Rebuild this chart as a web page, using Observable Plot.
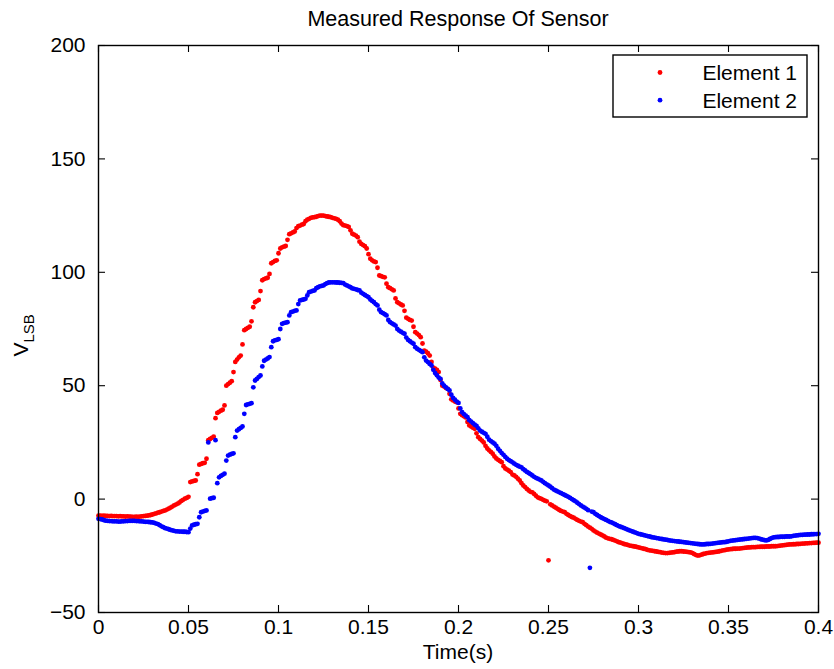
<!DOCTYPE html>
<html>
<head>
<meta charset="utf-8">
<script src="https://cdn.jsdelivr.net/npm/d3@7"></script>
<script src="https://cdn.jsdelivr.net/npm/@observablehq/plot@0.6"></script>
<style>
  html, body { margin: 0; padding: 0; background: #fff; }
  #chart { width: 834px; height: 669px; }
</style>
</head>
<body>
<div id="chart"></div>
<script>
// ---- data ----
const chartTitle = "Measured Response Of Sensor";
const xLabel = "Time(s)";
const yLabelMain = "V";
const yLabelSub = "LSB";
const seriesNames = ["Element 1", "Element 2"];
const seriesColors = ["#ff0000", "#0000ff"];
const xTicks = [0, 0.05, 0.1, 0.15, 0.2, 0.25, 0.3, 0.35, 0.4];
const xTickLabels = ["0", "0.05", "0.1", "0.15", "0.2", "0.25", "0.3", "0.35", "0.4"];
const yTicks = [-50, 0, 50, 100, 150, 200];
const yTickLabels = ["\u221250", "0", "50", "100", "150", "200"];
const sampleMs = d3.range(0, 401); // 1 ms sample clock, 0..400 ms

const element1 = [
  -7.3,-7.3,-7.4,-7.3,-7.4, -7.4,-7.5,-7.4,-7.5,-7.5, -7.5,-7.6,-7.5,-7.6,-7.6, -7.7,-7.6,-7.7,-7.7,-7.8,
  -7.8,-7.7,-7.8,-7.7,-7.6, -7.5,-7.4,-7.3,-7.2,-7.0, -6.8,-6.5,-6.3,-6.0,-5.8, -5.5,-5.2,-5.0,-4.6,-4.2,
  -3.8,-3.3,-2.8,-2.4,-2.0, -1.5,-0.8,-0.3,0.2,0.5, 1.0,7.5,7.8,8.0,8.2, 11.0,15.2,15.5,15.8,16.0,
  17.8,26.0,26.5,27.0,27.5, 35.7,38.0,38.5,39.0,39.4, 41.3,50.0,50.7,51.3,52.0, 56.0,60.5,61.5,62.5,63.3,
  68.2,74.5,75.0,75.5,76.0, 78.4,84.6,86.8,87.3,87.8, 91.7,96.5,97.0,97.3,97.6, 99.3,104.0,104.5,105.0,105.3,
  108.4,110.5,111.0,111.3,111.6, 114.3,116.8,117.2,117.6,118.0, 119.5,120.3,120.6,121.0,121.3, 122.5,123.2,123.6,124.0,124.2,
  124.3,124.5,124.8,125.0,125.0, 125.0,124.8,124.6,124.5,124.3, 124.0,123.8,123.6,123.2,122.5, 121.5,120.8,120.6,120.4,120.0,
  118.5,117.0,116.6,116.2,115.5, 113.5,112.5,112.0,111.5,110.5, 108.0,106.0,105.3,104.8,104.5, 102.0,98.6,98.3,98.0,97.8,
  95.0,93.4,93.0,92.5,92.0, 88.5,86.8,86.3,85.8,85.4, 83.0,80.0,79.5,79.0,78.7, 76.0,73.6,73.0,72.3,71.4,
  68.6,65.5,65.0,64.3,63.3, 60.5,58.0,57.5,57.0,56.0, 52.5,50.0,49.6,49.0,48.6, 46.4,44.0,43.5,43.0,42.7,
  40.0,37.6,37.0,36.5,36.0, 34.0,32.5,32.0,31.5,31.0, 29.0,27.3,26.5,25.8,25.0, 23.5,22.3,21.5,20.8,20.0,
  18.8,17.9,17.3,16.8,16.3, 14.5,13.5,13.0,12.5,11.9, 10.8,10.4,9.8,9.0,8.2, 7.0,6.0,5.3,4.5,3.8,
  3.2,3.0,2.3,1.5,0.8, 0.4,0.1,-0.3,-0.7,-1.0, -27.0,-2.3,-2.8,-3.3,-3.8, -4.3,-4.8,-5.2,-5.5,-5.8,
  -6.5,-7.0,-7.5,-7.9,-8.2, -8.7,-9.2,-9.6,-9.9,-10.2, -10.9,-11.5,-12.1,-12.6,-13.1, -13.8,-14.3,-14.8,-15.2,-15.6,
  -16.0,-16.5,-17.0,-17.3,-17.5, -17.7,-18.0,-18.3,-18.6,-19.0, -19.2,-19.5,-19.8,-20.0,-20.2, -20.5,-20.6,-20.8,-20.9,-21.1,
  -21.3,-21.5,-21.7,-21.9,-22.1, -22.4,-22.6,-22.7,-22.8,-23.0, -23.1,-23.3,-23.4,-23.6,-23.7, -23.8,-23.8,-23.7,-23.6,-23.5,
  -23.4,-23.2,-23.1,-23.0,-23.0, -23.1,-23.2,-23.3,-23.4,-23.5, -23.8,-24.3,-24.7,-24.9,-24.8, -24.5,-24.2,-24.0,-23.8,-23.7,
  -23.6,-23.5,-23.4,-23.3,-23.2, -23.0,-22.8,-22.6,-22.5,-22.3, -22.2,-22.1,-22.0,-21.9,-21.9, -21.8,-21.8,-21.7,-21.6,-21.5,
  -21.4,-21.3,-21.3,-21.2,-21.2, -21.2,-21.1,-21.1,-21.0,-21.0, -21.0,-20.9,-20.9,-20.9,-20.8, -20.8,-20.8,-20.7,-20.6,-20.5,
  -20.4,-20.3,-20.2,-20.1,-20.0, -20.0,-19.9,-19.9,-19.8,-19.8, -19.7,-19.6,-19.6,-19.5,-19.5, -19.4,-19.4,-19.3,-19.3,-19.2,
  -19.2
];

const element2 = [
  -8.7,-8.8,-9.0,-9.3,-9.5, -9.6,-9.7,-9.7,-9.8,-9.8, -9.8,-9.9,-9.9,-9.8,-9.8, -9.7,-9.7,-9.6,-9.6,-9.6,
  -9.6,-9.7,-9.7,-9.8,-9.8, -9.9,-10.0,-10.0,-10.1,-10.2, -10.3,-10.5,-10.8,-11.0,-11.5, -12.0,-12.4,-12.8,-13.0,-13.3,
  -13.6,-13.8,-14.0,-14.2,-14.2, -14.3,-14.3,-14.4,-14.4,-14.5,
  -14.6,
  -13.0,-11.6,-11.3,-11.1,-10.9, -8.0,-5.8,-5.5,-5.2,-5.0, 25.0,0.2,0.4,0.6,26.0, 7.0,9.6,10.2,10.7,11.2,
  17.0,19.2,19.6,19.9,20.2, 27.3,30.2,30.8,31.4,32.0, 37.6,41.5,41.8,42.0,42.3, 49.3,52.3,53.0,53.8,54.5,
  58.5,61.0,61.5,62.0,62.6, 67.0,69.6,70.0,70.2,70.5, 75.0,77.3,77.6,77.8,78.0, 81.0,82.4,82.7,83.0,83.2,
  86.0,87.6,87.8,88.0,88.3, 89.8,91.2,91.5,91.8,92.0, 93.0,93.4,93.8,94.0,94.2, 94.8,95.2,95.5,95.6,95.6,
  95.6,95.5,95.5,95.4,95.3, 95.2,94.6,94.2,93.8,93.4, 92.9,92.7,92.5,92.2,92.0, 91.0,90.5,90.0,89.5,89.0,
  88.0,87.4,86.8,86.0,85.4, 83.5,82.4,82.0,81.5,81.0, 79.0,78.0,77.5,77.0,76.5, 75.0,74.3,73.8,73.3,72.9,
  71.2,70.2,69.6,69.0,68.5, 67.0,66.3,65.8,65.3,64.8, 62.5,61.1,60.4,59.6,58.9, 57.0,55.6,54.6,53.6,53.0,
  51.0,50.0,49.3,48.6,47.9, 46.0,44.6,43.8,43.0,42.4, 40.0,38.3,37.5,36.8,36.1, 34.8,34.2,33.5,32.8,32.3,
  31.2,30.2,29.7,29.2,28.8, 27.5,26.2,25.6,25.0,24.4, 23.5,22.2,21.3,20.3,19.5, 18.6,17.8,17.2,16.7,16.2,
  15.6,15.1,14.7,14.3,14.0, 13.2,12.6,12.0,11.5,11.0, 10.4,9.8,9.4,9.0,8.6, 8.2,7.6,7.0,6.5,6.0,
  5.5,4.8,4.2,3.8,3.4, 3.0,2.6,2.2,1.8,1.4, 1.0,0.5,0.0,-0.5,-1.0, -1.6,-2.2,-2.8,-3.3,-3.8,
  -4.3,-4.9,-30.3,-5.5,-5.8, -6.5,-7.0,-7.5,-8.0,-8.4, -8.8,-9.2,-9.6,-10.0,-10.3, -10.7,-11.1,-11.5,-11.9,-12.2,
  -12.5,-12.8,-13.1,-13.5,-13.8, -14.1,-14.4,-14.7,-15.0,-15.3, -15.5,-15.7,-15.9,-16.1,-16.3, -16.5,-16.7,-16.9,-17.0,-17.2,
  -17.3,-17.5,-17.6,-17.8,-17.9, -18.0,-18.2,-18.3,-18.4,-18.5, -18.6,-18.7,-18.8,-18.9,-19.0, -19.1,-19.2,-19.3,-19.4,-19.5,
  -19.6,-19.7,-19.8,-19.9,-20.0, -20.0,-19.9,-19.8,-19.8,-19.7, -19.6,-19.5,-19.4,-19.3,-19.2, -19.1,-19.0,-19.0,-18.8,-18.6,
  -18.4,-18.3,-18.2,-18.1,-18.0, -17.9,-17.8,-17.7,-17.6,-17.5, -17.4,-17.3,-17.2,-17.1,-17.1, -17.2,-17.4,-17.7,-17.9,-18.1,
  -18.2,-18.0,-17.6,-17.2,-16.9, -16.8,-16.7,-16.7,-16.6,-16.6, -16.6,-16.5,-16.5,-16.5,-16.4, -16.2,-16.1,-16.0,-15.9,-15.8,
  -15.8,-15.7,-15.7,-15.6,-15.6, -15.5,-15.5,-15.4,-15.4,-15.3
];

// ---- build ----
const W = 834, H = 669;
const mT = 45, mR = 16, mB = 57, mL = 98;
const innerW = W - mL - mR, innerH = H - mT - mB;
const FONT = "'Liberation Sans', Arial, Helvetica, sans-serif";
const DOT_R = 2.4;

const rows1 = sampleMs.map((ms, i) => ({t: ms / 1000, v: element1[i]}));
const rows2 = sampleMs.map((ms, i) => ({t: ms / 1000, v: element2[i]}));
const xLab = new Map(xTicks.map((d, i) => [d, xTickLabels[i]]));
const yLab = new Map(yTicks.map((d, i) => [d, yTickLabels[i]]));

const chart = Plot.plot({
  width: W, height: H,
  marginTop: mT, marginRight: mR, marginBottom: mB, marginLeft: mL,
  style: {fontFamily: FONT, fontSize: "21px", background: "white", color: "black", overflow: "visible"},
  x: {domain: [0, 0.4], label: null},
  y: {domain: [-50, 200], label: null},
  marks: [
    Plot.dot(rows1, {x: "t", y: "v", r: DOT_R, fill: seriesColors[0], stroke: null}),
    Plot.dot(rows2, {x: "t", y: "v", r: DOT_R, fill: seriesColors[1], stroke: null}),
    Plot.frame({stroke: "black", strokeWidth: 1.4}),
    Plot.tickX(xTicks, {x: d => d, insetTop: innerH - 7, stroke: "black", strokeWidth: 1.1}),
    Plot.tickX(xTicks, {x: d => d, insetBottom: innerH - 7, stroke: "black", strokeWidth: 1.1}),
    Plot.tickY(yTicks, {y: d => d, insetRight: innerW - 7, stroke: "black", strokeWidth: 1.1}),
    Plot.tickY(yTicks, {y: d => d, insetLeft: innerW - 7, stroke: "black", strokeWidth: 1.1}),
    Plot.axisX(xTicks, {tickSize: 0, tickPadding: 7, tickFormat: d => xLab.get(d), fontSize: 21, label: null}),
    Plot.axisY(yTicks, {tickSize: 0, tickPadding: 13, tickFormat: d => yLab.get(d), fontSize: 21, label: null})
  ]
});

document.getElementById("chart").appendChild(chart);

const svg = d3.select(chart);
// title
svg.append("text")
  .attr("x", mL + innerW / 2).attr("y", 26)
  .attr("text-anchor", "middle")
  .attr("font-family", FONT).attr("font-size", 21.5).attr("fill", "black")
  .text(chartTitle);
// x label
svg.append("text")
  .attr("x", mL + innerW / 2).attr("y", 659)
  .attr("text-anchor", "middle")
  .attr("font-family", FONT).attr("font-size", 21).attr("fill", "black")
  .text(xLabel);
// y label with subscript
const yl = svg.append("text")
  .attr("transform", `translate(28, ${mT + innerH / 2 + 28}) rotate(-90)`)
  .attr("text-anchor", "start")
  .attr("font-family", FONT).attr("font-size", 21).attr("fill", "black");
yl.append("tspan").text(yLabelMain);
yl.append("tspan").attr("dy", 6).attr("font-size", 15).text(yLabelSub);

// legend
const lg = svg.append("g");
lg.append("rect").attr("x", 613).attr("y", 55).attr("width", 194).attr("height", 62)
  .attr("fill", "white").attr("stroke", "black").attr("stroke-width", 1.4);
seriesNames.forEach((name, i) => {
  const cy = 72.5 + i * 27.7;
  lg.append("circle").attr("cx", 660).attr("cy", cy).attr("r", DOT_R).attr("fill", seriesColors[i]);
  lg.append("text").attr("x", 797).attr("y", cy + 7.5)
    .attr("text-anchor", "end")
    .attr("font-family", FONT).attr("font-size", 21).attr("fill", "black")
    .text(name);
});
</script>
</body>
</html>
